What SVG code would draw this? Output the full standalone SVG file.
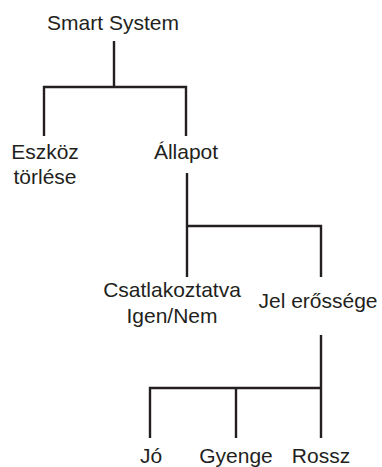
<svg xmlns="http://www.w3.org/2000/svg" width="382" height="467" viewBox="0 0 382 467">
<style>
text{font-family:"Liberation Sans",Arial,sans-serif;font-size:21px;fill:#231f20;text-anchor:middle}
.c{fill:none;stroke:#231f20;stroke-width:2.4;stroke-linejoin:miter;stroke-linecap:butt}
</style>
<rect width="382" height="467" fill="#fff"/>
<g id="connectors">
<path class="c" d="M114 41 V87 M44 136 V87 H186 V136"/>
<path class="c" d="M187 173 V277 M187 226 H321 V277"/>
<path class="c" d="M321 335 V438 M150 438 V388 H321 M236 388 V438"/>
</g>
<g id="root"><text x="113" y="30">Smart System</text></g>
<g id="eszkoz"><text x="45" y="159">Eszköz</text><text x="45" y="184">törlése</text></g>
<g id="allapot"><text x="186" y="159">Állapot</text></g>
<g id="csatlakoztatva"><text x="172" y="297">Csatlakoztatva</text><text x="172" y="323">Igen/Nem</text></g>
<g id="jel"><text x="318" y="308">Jel erőssége</text></g>
<g id="jo"><text x="151" y="463">Jó</text></g>
<g id="gyenge"><text x="236" y="463">Gyenge</text></g>
<g id="rossz"><text x="321" y="463">Rossz</text></g>
</svg>
